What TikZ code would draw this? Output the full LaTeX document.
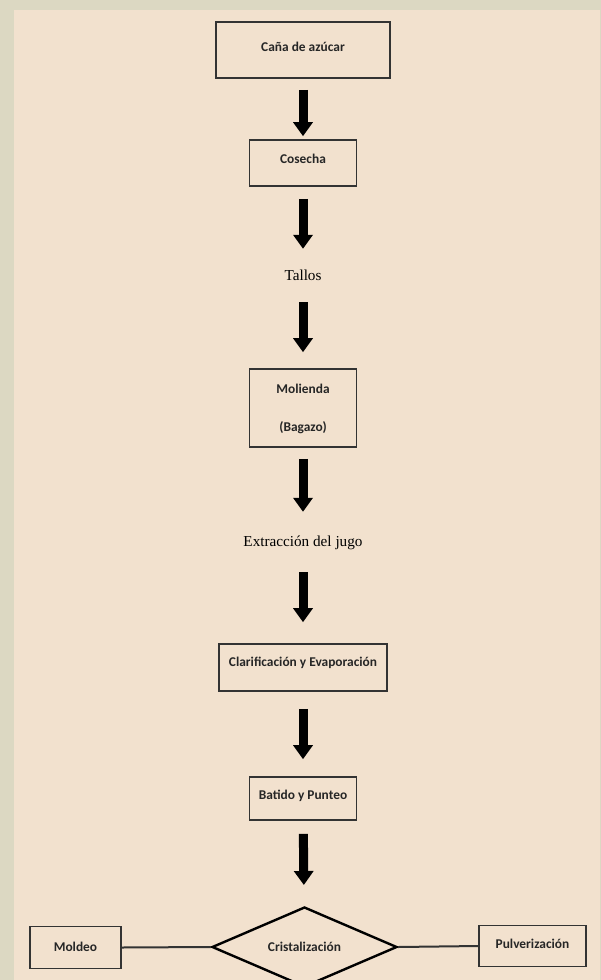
\documentclass[tikz,border=0pt]{standalone}
\usepackage{fontspec}
\setmainfont{Carlito}
\newfontfamily\serifmain{Liberation Serif}
\usetikzlibrary{arrows.meta,shapes.geometric}
\definecolor{outergrey}{HTML}{DCD8C2}
\definecolor{panelbeige}{HTML}{F2E1CE}
\definecolor{boxline}{HTML}{333333}
\tikzset{
  flowbox/.style={draw=boxline, line width=1.6pt, inner sep=0pt},
  boxtext/.style={inner sep=0pt, font=\bfseries\fontsize{13.4}{16}\selectfont, text=black!85},
  serifstep/.style={inner sep=0pt, minimum height=20pt, font=\serifmain\fontsize{15.2}{18}\selectfont, text=black},
  bigarrow/.style={line width=9pt, black, -{Triangle[width=19pt,length=14pt]}},
  joinline/.style={draw=boxline, line width=2pt},
}
\begin{document}
\begin{tikzpicture}[x=1pt,y=-1pt]
\useasboundingbox (0,0) rectangle (601,980);
\clip (0,0) rectangle (601,980);
\fill[outergrey] (0,0) rectangle (601,980);
\fill[panelbeige] (14,10) rectangle (600,980);

% boxes
\node[flowbox, minimum width=174pt, minimum height=56pt] (cana) at (303,50) {};
\node[boxtext] (canat) at (303,47) {Caña de azúcar};

\node[flowbox, minimum width=107pt, minimum height=46pt] (cosecha) at (303,163) {};
\node[boxtext] (cosechat) at (303,159) {Cosecha};

\node[serifstep] (tallos) at (303,275) {Tallos};

\node[flowbox, minimum width=107pt, minimum height=78pt] (molienda) at (303,408) {};
\node[boxtext] (moliendat) at (303,389) {Molienda};
\node[boxtext] (bagazot) at (303,428) {(Bagazo)};

\node[serifstep] (extraccion) at (303,543) {Extracción del jugo};

\node[flowbox, minimum width=168pt, minimum height=47pt] (clarif) at (303,667.5) {};
\node[boxtext] (clarift) at (303,663) {Clarificación y Evaporación};

\node[flowbox, minimum width=107pt, minimum height=43pt] (batido) at (303,798.5) {};
\node[boxtext] (batidot) at (303,796) {Batido y Punteo};

\node[diamond, draw=black, line width=2.4pt, inner sep=0pt, minimum width=185pt, minimum height=80pt] (cristal) at (304.5,947) {};
\node[boxtext] (cristalt) at (304.5,947) {Cristalización};

\node[flowbox, minimum width=91pt, minimum height=42pt] (moldeo) at (75.5,947.5) {};
\node[boxtext] (moldeot) at (75.5,947) {Moldeo};

\node[flowbox, minimum width=107pt, minimum height=41pt] (pulv) at (532.5,946) {};
\node[boxtext] (pulvt) at (532.5,944) {Pulverización};

% arrows
\draw[bigarrow, shorten <=11pt, shorten >=3pt] (cana) -- (cosecha);
\draw[bigarrow, shorten <=12pt, shorten >=16pt] (cosecha) -- (tallos);
\draw[bigarrow, shorten <=17pt, shorten >=16pt] (tallos) -- (molienda);
\draw[bigarrow, shorten <=11pt, shorten >=21pt] (molienda) -- (extraccion);
\draw[bigarrow, shorten <=19pt, shorten >=21pt] (extraccion) -- (clarif);
\draw[bigarrow, shorten <=17pt, shorten >=17pt] (clarif) -- (batido);
\draw[bigarrow, shorten <=13pt, shorten >=21pt] (batido) -- (cristal);

% side connectors
\draw[joinline] (cristal.west) -- (moldeo.east);
\draw[joinline] (cristal.east) -- (pulv.west);
\end{tikzpicture}
\end{document}
